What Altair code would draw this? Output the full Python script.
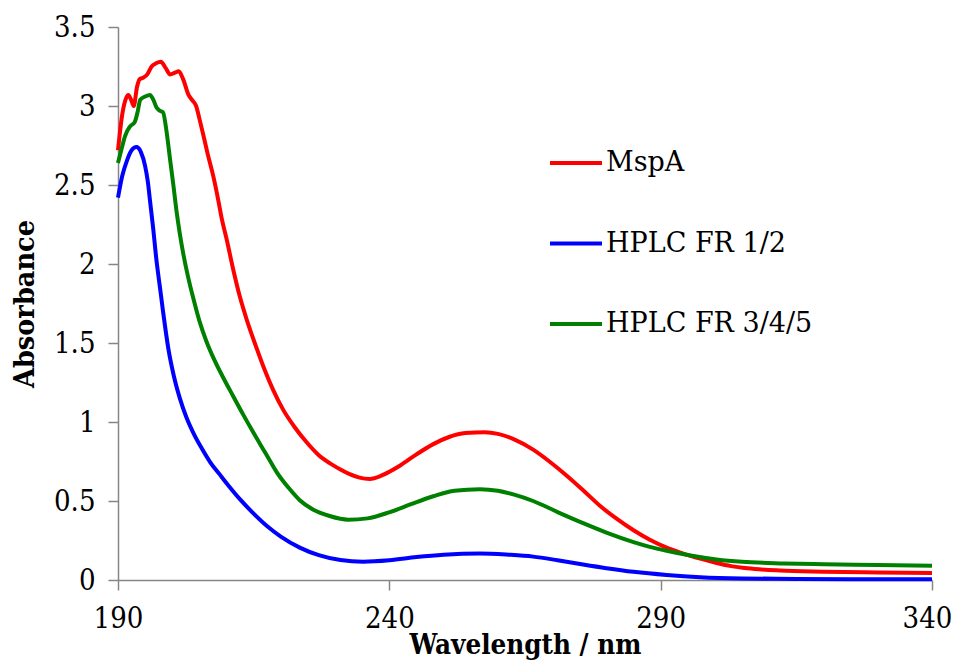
import altair as alt
import pandas as pd

series_names = ["MspA", "HPLC FR 1/2", "HPLC FR 3/4/5"]
series_colors = ["#FF0000", "#0000FF", "#008000"]

mspa_nm = [190, 190.8, 191.5, 191.9, 192.4, 192.9, 193.5, 194.0, 194.7, 195.4, 196.2, 197.0,
           197.9, 198.8, 199.6, 200.4, 201.2, 202.0, 203.0, 203.6, 204.4, 205.0, 205.7, 206.5,
           207.6, 208.5, 209.1, 210.0, 211.2, 212.4, 213.7, 215.2, 216.8, 218.5, 220.4, 222.5,
           224.8, 227.0, 229.0, 231.0, 232.7, 234.5, 236.4, 238.5, 240.0, 242.0, 245.0, 248.1,
           251.0, 254.0, 257.6, 260.0, 263.0, 266.5, 269.5, 272.7, 275.8, 278.8, 282.0, 285.0,
           288.0, 291.1, 293.5, 295.5, 297.3, 300.3, 303, 306, 312, 320, 330, 340]
mspa_abs = [2.72, 2.95, 3.05, 3.07, 3.04, 3.00, 3.12, 3.17, 3.18, 3.20, 3.25, 3.27,
            3.28, 3.24, 3.20, 3.21, 3.22, 3.17, 3.07, 3.04, 3.00, 2.92, 2.82, 2.70,
            2.55, 2.40, 2.29, 2.16, 1.97, 1.80, 1.65, 1.50, 1.35, 1.21, 1.08, 0.97,
            0.87, 0.79, 0.74, 0.70, 0.67, 0.648, 0.64, 0.66, 0.685, 0.725, 0.795, 0.86,
            0.905, 0.93, 0.935, 0.925, 0.89, 0.825, 0.75, 0.66, 0.565, 0.47, 0.385, 0.315,
            0.255, 0.205, 0.175, 0.153, 0.135, 0.108, 0.088, 0.074, 0.06, 0.053, 0.048, 0.045]

fr12_nm = [190, 190.8, 191.6, 192.5, 193.4, 194.2, 195.0, 195.5, 195.9, 196.5, 197.1, 197.7,
           198.3, 199.3, 200.3, 201.4, 202.6, 203.9, 205.4, 207.0, 208.7, 210.3, 212.5, 215.0,
           217.5, 220.0, 223.5, 227.0, 231.0, 235.2, 240.0, 245.0, 250.0, 256.7, 262.0, 266.5,
           271.0, 275.7, 280.0, 285.0, 291.1, 297.3, 305, 315, 325, 340]
fr12_abs = [2.42, 2.56, 2.65, 2.72, 2.74, 2.71, 2.62, 2.52, 2.40, 2.22, 2.02, 1.86,
            1.70, 1.46, 1.29, 1.15, 1.03, 0.93, 0.835, 0.745, 0.67, 0.60, 0.51, 0.42,
            0.34, 0.275, 0.205, 0.157, 0.126, 0.116, 0.125, 0.145, 0.16, 0.168, 0.16, 0.148,
            0.125, 0.098, 0.075, 0.052, 0.032, 0.018, 0.01, 0.007, 0.005, 0.004]

fr345_nm = [190, 190.6, 191.3, 192.2, 193.1, 193.6, 194.1, 195.0, 195.9, 196.5, 197.1, 197.7,
            198.3, 198.9, 199.6, 200.2, 200.8, 201.4, 202.0, 202.9, 203.9, 205.0, 206.3, 207.8,
            209.4, 211.2, 213.1, 215.0, 216.8, 218.0, 219.3, 221.4, 223.5, 226.0, 229.0, 232.4,
            236.0, 240.1, 244.0, 248.1, 252.0, 256.7, 260.0, 263.0, 266.5, 271.0, 275.7, 280.0,
            285.0, 288.0, 291.1, 295.5, 300.3, 305, 312.6, 320, 330, 340]
fr345_abs = [2.64, 2.72, 2.81, 2.87, 2.90, 2.96, 3.04, 3.06, 3.07, 3.04, 2.99, 2.97,
             2.96, 2.85, 2.66, 2.50, 2.33, 2.19, 2.07, 1.92, 1.78, 1.64, 1.51, 1.39,
             1.28, 1.165, 1.045, 0.93, 0.825, 0.755, 0.68, 0.585, 0.505, 0.445, 0.405, 0.382,
             0.39, 0.43, 0.48, 0.53, 0.565, 0.575, 0.565, 0.54, 0.50, 0.43, 0.36, 0.30,
             0.24, 0.21, 0.185, 0.155, 0.13, 0.115, 0.105, 0.10, 0.095, 0.09]

x_ticks = [190, 240, 290, 340]
y_ticks = [0, 0.5, 1, 1.5, 2, 2.5, 3, 3.5]

rows = []
for name, xs, ys in [(series_names[0], mspa_nm, mspa_abs),
                     (series_names[1], fr12_nm, fr12_abs),
                     (series_names[2], fr345_nm, fr345_abs)]:
    for a, b in zip(xs, ys):
        rows.append({"series": name, "nm": a, "abs": b})
df = pd.DataFrame(rows)

COND = "DejaVu Serif Condensed, DejaVu Serif"
SERIF = "DejaVu Serif"

chart = alt.Chart(df).mark_line(strokeWidth=4, interpolate="monotone").encode(
    x=alt.X("nm:Q", scale=alt.Scale(domain=[190, 340], nice=False),
            axis=alt.Axis(values=x_ticks, title="Wavelength / nm", grid=False,
                          tickSize=10, labelPadding=14, titlePadding=-2, labelFlush=False,
                          titleFontSize=27.5,
                          labelOffset={"condition": {"test": "datum.value == 340", "value": -5},
                                       "value": 0})),
    y=alt.Y("abs:Q", scale=alt.Scale(domain=[0, 3.5], nice=False),
            axis=alt.Axis(values=y_ticks, format="~g", title="Absorbance", grid=False,
                          tickSize=10, labelPadding=13, titlePadding=14, labelFlush=False,
                          titleFontSize=28.5)),
    color=alt.Color("series:N",
                    scale=alt.Scale(domain=series_names, range=series_colors),
                    legend=alt.Legend(title=None, orient="none", legendX=430, legendY=108,
                                      symbolType="stroke", symbolSize=2704,
                                      symbolStrokeWidth=4, labelOffset=2, labelLimit=0,
                                      rowPadding=39.5, labelFontSize=27, labelFont=SERIF,
                                      labelColor="black")),
    detail="series:N",
).properties(
    width=814, height=553,
    padding={"left": 110, "top": 19, "right": 19, "bottom": 86},
    autosize=alt.AutoSizeParams(type="none"),
).configure_view(
    stroke=None
).configure_axis(
    domainColor="#868686", tickColor="#868686", domainWidth=1.5, tickWidth=1.5,
    labelFont=COND, labelFontSize=29, labelColor="black",
    titleFont=COND, titleFontWeight="bold", titleColor="black",
)

chart.save("out.html", embed_options={"renderer": "svg", "actions": False})
